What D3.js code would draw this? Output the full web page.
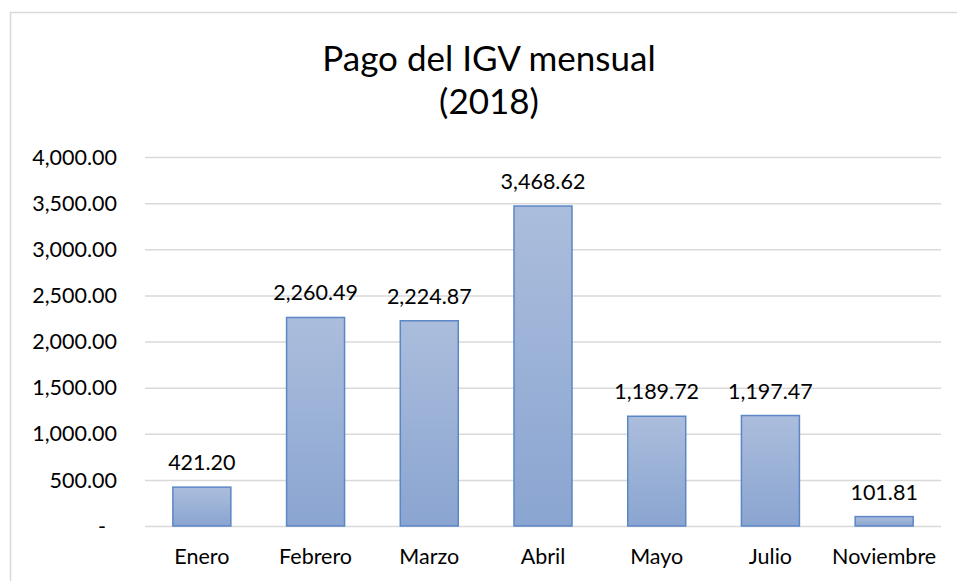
<!DOCTYPE html>
<html lang="es">
<head>
    <meta charset="UTF-8">
    <title>Pago del IGV mensual (2018)</title>
    <script src="https://d3js.org/d3.v7.min.js"></script>
    <style>
        body {
            margin: 0;
            background: #fff;
        }

        svg text {
            font-family: Lato, "Open Sans", sans-serif;
            fill: #000;
        }

        .grid line {
            stroke: #d9d9d9;
            stroke-width: 1.5px;
        }

        .bar {
            stroke: #5b87c6;
            stroke-width: 1.5px;
        }
    </style>
</head>
<body>
    <svg width="957" height="581"></svg>
    <script>
        // data
        const months = ["Enero", "Febrero", "Marzo", "Abril", "Mayo", "Julio", "Noviembre"];
        const igv = [421.20, 2260.49, 2224.87, 3468.62, 1189.72, 1197.47, 101.81];
        const yTicks = [0, 500, 1000, 1500, 2000, 2500, 3000, 3500, 4000];
        const titleLines = ["Pago del IGV mensual", "(2018)"];

        const svg = d3.select("svg");
        const margin = { top: 157, right: 16, bottom: 55, left: 145 };
        const width = 957 - margin.left - margin.right,
              height = 581 - margin.top - margin.bottom;

        // chart area border (cut off at right and bottom like the screenshot)
        svg.append("rect")
            .attr("x", 10.5).attr("y", 12.5)
            .attr("width", 960).attr("height", 600)
            .attr("fill", "none")
            .attr("stroke", "#d9d9d9")
            .attr("stroke-width", 1.5);

        const defs = svg.append("defs");
        const grad = defs.append("linearGradient")
            .attr("id", "barFill")
            .attr("x1", 0).attr("y1", 0).attr("x2", 0).attr("y2", 1);
        grad.append("stop").attr("offset", "0%").attr("stop-color", "#abbddc");
        grad.append("stop").attr("offset", "100%").attr("stop-color", "#8aa5d1");

        const g = svg.append("g")
            .attr("transform", `translate(${margin.left},${margin.top})`);

        const x = d3.scaleBand()
            .domain(months)
            .range([0, width])
            .paddingInner(0.49)
            .paddingOuter(0.245);

        const y = d3.scaleLinear()
            .domain([0, 4000])
            .range([height, 0]);

        const fmt = d3.format(",.2f");

        // gridlines
        g.append("g")
            .attr("class", "grid")
            .call(d3.axisLeft(y).tickValues(yTicks).tickSize(-width).tickFormat(""))
            .call(a => a.select(".domain").remove());

        // y tick labels (zero shown as a dash, accounting style)
        g.append("g")
            .selectAll("text")
            .data(yTicks)
            .join("text")
            .attr("x", d => d === 0 ? -39 : -28)
            .attr("y", d => y(d))
            .attr("dy", "0.36em")
            .attr("text-anchor", "end")
            .style("font-size", "21.5px")
            .text(d => d === 0 ? "-" : fmt(d));

        // bars
        g.append("g")
            .selectAll("rect")
            .data(igv)
            .join("rect")
            .attr("class", "bar")
            .attr("fill", "url(#barFill)")
            .attr("x", (d, i) => x(months[i]))
            .attr("y", d => y(d))
            .attr("width", x.bandwidth())
            .attr("height", d => height - y(d));

        // data labels
        g.append("g")
            .selectAll("text")
            .data(igv)
            .join("text")
            .attr("x", (d, i) => x(months[i]) + x.bandwidth() / 2)
            .attr("y", d => y(d) - 17)
            .attr("text-anchor", "middle")
            .style("font-size", "21.5px")
            .text(d => fmt(d));

        // category labels
        g.append("g")
            .selectAll("text")
            .data(months)
            .join("text")
            .attr("x", d => x(d) + x.bandwidth() / 2)
            .attr("y", height + 38)
            .attr("text-anchor", "middle")
            .style("font-size", "21.5px")
            .text(d => d);

        // title
        svg.append("g")
            .selectAll("text")
            .data(titleLines)
            .join("text")
            .attr("x", 489)
            .attr("y", (d, i) => 71 + i * 43)
            .attr("text-anchor", "middle")
            .style("font-size", "35px")
            .text(d => d);
    </script>
</body>
</html>
